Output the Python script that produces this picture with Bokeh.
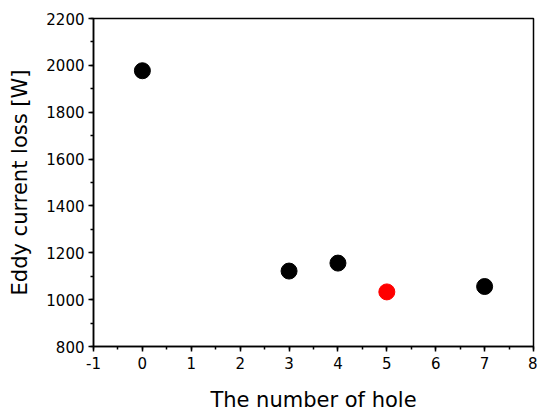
from bokeh.plotting import figure
from bokeh.models import SingleIntervalTicker, Range1d, PrintfTickFormatter
from bokeh.embed import file_html
from bokeh.resources import INLINE

holes = [0, 3, 4, 5, 7]
loss = [1977, 1122, 1156, 1033, 1056]
colors = ["black", "black", "black", "red", "black"]

p = figure(width=537, height=416, output_backend="svg", toolbar_location=None,
           x_range=Range1d(-1, 8), y_range=Range1d(800, 2200),
           min_border_left=93, min_border_right=4, min_border_top=18, min_border_bottom=70)
p.grid.visible = False
p.outline_line_color = "black"
p.outline_line_width = 1.5

p.scatter(holes, loss, size=16, color=colors)

p.xaxis.ticker = SingleIntervalTicker(interval=1, num_minor_ticks=2)
p.yaxis.ticker = SingleIntervalTicker(interval=200, num_minor_ticks=2)
p.xaxis.formatter = PrintfTickFormatter(format="%d")
p.yaxis.formatter = PrintfTickFormatter(format="%d")
for ax in (p.xaxis, p.yaxis):
    ax.axis_line_width = 1.5
    ax.axis_line_color = "black"
    ax.major_tick_in = 0
    ax.major_tick_out = 5
    ax.minor_tick_in = 0
    ax.minor_tick_out = 3
    ax.major_tick_line_color = "black"
    ax.minor_tick_line_color = "black"
    ax.major_tick_line_width = 1.5
    ax.minor_tick_line_width = 1.5
    ax.major_label_text_font = "DejaVu Sans"
    ax.major_label_text_font_size = "15px"
    ax.major_label_text_color = "black"
    ax.axis_label_text_font = "DejaVu Sans"
    ax.axis_label_text_font_size = "21px"
    ax.axis_label_text_font_style = "normal"
    ax.axis_label_text_color = "black"
p.xaxis.axis_label = "The number of hole"
p.yaxis.axis_label = "Eddy current loss [W]"
p.xaxis.major_label_standoff = 5
p.yaxis.major_label_standoff = 4
p.xaxis.axis_label_standoff = 16
p.yaxis.axis_label_standoff = 11

open("out.html", "w").write(file_html(p, INLINE))
